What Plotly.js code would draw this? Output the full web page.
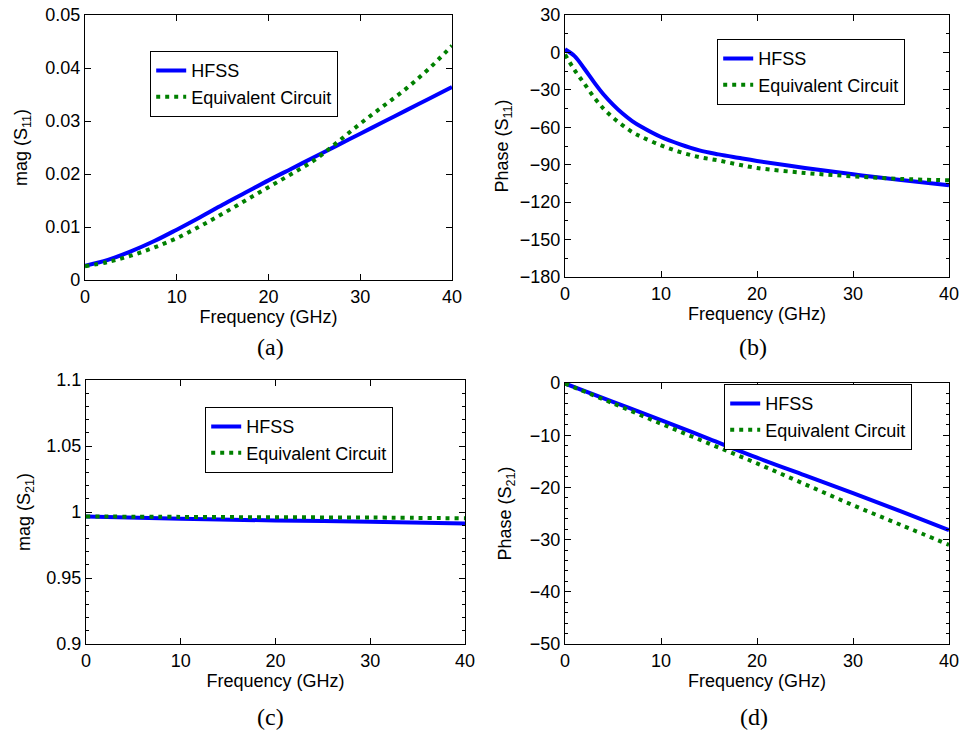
<!DOCTYPE html>
<html>
<head>
<meta charset="utf-8">
<script src="https://cdn.plot.ly/plotly-3.0.1.min.js"></script>
<style>html,body{margin:0;padding:0;background:#fff;}#chart{width:962px;height:732px;}</style>
</head>
<body>
<div id="chart"></div>
<script>
// ---- Data ----
// (a) mag(S11)
var freqA = [0, 2.5, 5, 7.5, 10, 12.5, 15, 17.5, 20, 22.5, 25, 27.5, 30, 32.5, 35, 37.5, 40];
var magS11Hfss = [0.0027, 0.0038, 0.0054, 0.0073, 0.0095, 0.0118, 0.0142, 0.0165, 0.0188, 0.0210, 0.0232, 0.0254, 0.0276, 0.0298, 0.0320, 0.0342, 0.0364];
var magS11Ec   = [0.0026, 0.0034, 0.0046, 0.0061, 0.0079, 0.0101, 0.0125, 0.0150, 0.0175, 0.0200, 0.0226, 0.0260, 0.0295, 0.0328, 0.0361, 0.0399, 0.0442];

// (b) phase(S11)
var freqB = [0, 1, 2, 3, 4, 5, 6, 7, 8, 10, 12, 14, 16, 18, 20, 25, 30, 35, 40];
var phaseS11Hfss = [2.5, -3, -12.9, -23.6, -33.5, -41.8, -49, -55, -59.8, -67.8, -73.7, -78.5, -81.7, -84.4, -87, -92.6, -97.7, -102.3, -106.5];
var phaseS11Ec   = [-1.6, -14.2, -24.9, -35.7, -45, -52.3, -58.4, -63.8, -67.8, -74.5, -79.9, -83.9, -86.6, -89.8, -92.6, -96.6, -99.3, -101.4, -102.5];

// (c) mag(S21)
var freqC = [0, 10, 20, 30, 40];
var magS21Hfss = [0.9966, 0.9948, 0.9936, 0.9926, 0.9913];
var magS21Ec   = [0.9966, 0.9963, 0.9960, 0.9958, 0.9952];

// (d) phase(S21)
var freqD = [0, 5, 10, 15, 20, 25, 30, 35, 40];
var phaseS21Hfss = [-0.1, -3.6, -7.1, -10.7, -14.3, -17.7, -21.1, -24.6, -28.2];
var phaseS21Ec   = [-0.1, -3.9, -7.8, -11.6, -15.4, -19.4, -23.4, -27.2, -31.0];

var seriesNames = ['HFSS', 'Equivalent Circuit'];
var panelLabels = ['(a)', '(b)', '(c)', '(d)'];
var xTitle = 'Frequency (GHz)';
var yTitles = ['mag (S<sub>11</sub>)', 'Phase (S<sub>11</sub>)', 'mag (S<sub>21</sub>)', 'Phase (S<sub>21</sub>)'];

// ---- Styling ----
var BLUE = '#0000FF', GREEN = '#008000';
var FONT = '"Liberation Sans", Arial, Helvetica, sans-serif';

function pair(x, yH, yE, ax, lg) {
  return [
    {x: x, y: yH, xaxis: 'x' + ax, yaxis: 'y' + ax, type: 'scatter', mode: 'lines',
     name: seriesNames[0], legend: lg, line: {color: BLUE, width: 4, shape: 'spline'}},
    {x: x, y: yE, xaxis: 'x' + ax, yaxis: 'y' + ax, type: 'scatter', mode: 'lines',
     name: seriesNames[1], legend: lg, line: {color: GREEN, width: 4, dash: '4px,5px', shape: 'spline'}}
  ];
}

var data = [].concat(
  pair(freqA, magS11Hfss, magS11Ec, '', 'legend'),
  pair(freqB, phaseS11Hfss, phaseS11Ec, '2', 'legend2'),
  pair(freqC, magS21Hfss, magS21Ec, '3', 'legend3'),
  pair(freqD, phaseS21Hfss, phaseS21Ec, '4', 'legend4')
);

function xax(domain, anchor) {
  return {domain: domain, anchor: anchor, range: [0, 40], dtick: 10, tick0: 0,
    showline: true, linecolor: '#000', linewidth: 1.2, mirror: 'ticks',
    ticks: 'inside', ticklen: 6, tickcolor: '#000', showgrid: false, zeroline: false,
    tickfont: {family: FONT, size: 18, color: '#000'},
    title: {text: xTitle, font: {family: FONT, size: 18, color: '#000'}, standoff: 4}};
}
function yax(domain, anchor, range, dtick, minorDtick, title, standoff) {
  var a = {domain: domain, anchor: anchor, range: range, dtick: dtick, tick0: range[0],
    showline: true, linecolor: '#000', linewidth: 1.2, mirror: 'ticks',
    ticks: 'inside', ticklen: 6, tickcolor: '#000', showgrid: false, zeroline: false,
    tickfont: {family: FONT, size: 18, color: '#000'},
    title: {text: title, font: {family: FONT, size: 18, color: '#000'}, standoff: standoff}};
  if (minorDtick) a.minor = {dtick: minorDtick, ticks: 'inside', ticklen: 3, tickcolor: '#000', showgrid: false};
  return a;
}

function legendAt(x, y) {
  return {x: x, y: y, xanchor: 'left', yanchor: 'top', xref: 'paper', yref: 'paper',
    bgcolor: '#fff', bordercolor: '#000', borderwidth: 1.2,
    font: {family: FONT, size: 18, color: '#000'}, tracegroupgap: 0, itemwidth: 30};
}

var annFont = {family: '"Liberation Serif", "Times New Roman", serif', size: 24, color: '#000'};
var annPos = [[270, 347], [753, 347], [270, 717], [754, 717]];
var annotations = panelLabels.map(function (t, i) {
  return {text: t, xref: 'paper', yref: 'paper', x: annPos[i][0] / 962, y: 1 - annPos[i][1] / 732,
    xanchor: 'center', yanchor: 'middle', showarrow: false, font: annFont};
});

var layout = {
  width: 962, height: 732,
  margin: {l: 0, r: 0, t: 0, b: 0},
  paper_bgcolor: '#fff', plot_bgcolor: '#fff',
  showlegend: true,
  font: {family: FONT},
  xaxis:  xax([85 / 962, 452 / 962], 'y'),
  yaxis:  yax([1 - 280 / 732, 1 - 15 / 732], 'x', [0, 0.05], 0.01, null, yTitles[0], 12),
  xaxis2: xax([565 / 962, 949 / 962], 'y2'),
  yaxis2: yax([1 - 277 / 732, 1 - 15 / 732], 'x2', [-180, 30], 30, 15, yTitles[1], 6),
  xaxis3: xax([86 / 962, 465 / 962], 'y3'),
  yaxis3: yax([1 - 644 / 732, 1 - 380 / 732], 'x3', [0.9, 1.1], 0.05, 0.01, yTitles[2], 10),
  xaxis4: xax([565 / 962, 949 / 962], 'y4'),
  yaxis4: yax([1 - 644 / 732, 1 - 383 / 732], 'x4', [-50, 0], 10, 2, yTitles[3], 13),
  legend:  legendAt(150 / 962, 1 - 51 / 732),
  legend2: legendAt(717 / 962, 1 - 39 / 732),
  legend3: legendAt(205 / 962, 1 - 407 / 732),
  legend4: legendAt(724 / 962, 1 - 384 / 732),
  annotations: annotations
};

Plotly.newPlot('chart', data, layout, {displayModeBar: false, staticPlot: true});
</script>
</body>
</html>
